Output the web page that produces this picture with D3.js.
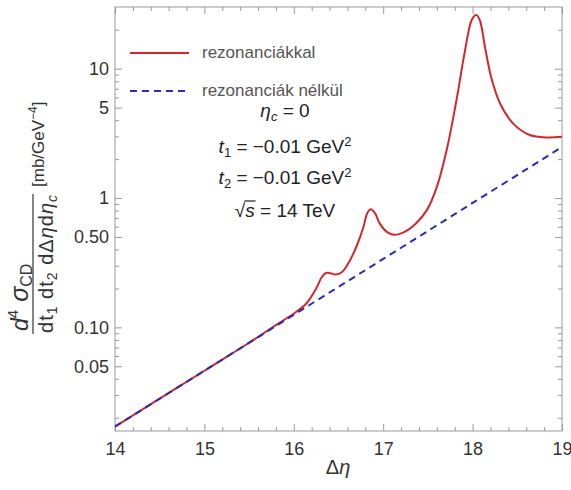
<!DOCTYPE html>
<html>
<head>
<meta charset="utf-8">
<script src="https://cdn.jsdelivr.net/npm/d3@7"></script>
<style>
  body { margin: 0; background: #fff; }
  svg { font-family: "Liberation Sans", Arial, sans-serif; }
  .tick line { stroke: #9a9a9a; }
  .tick text { fill: #333; font-size: 18px; }
  .frame { fill: none; stroke: #9a9a9a; stroke-width: 1; }
  .line-res { fill: none; stroke: #d2282d; stroke-width: 2px; }
  .line-nores { fill: none; stroke: #2b2bb8; stroke-width: 2px; stroke-dasharray: 7 5; }
</style>
</head>
<body>
<div id="chart"></div>
<script>
// tick values
const xTicks = [14, 15, 16, 17, 18, 19];
const yTicks = [0.05, 0.1, 0.5, 1, 5, 10];
const yTickLabels = ["0.05", "0.10", "0.50", "1", "5", "10"];

// with resonances
const etaRes = [14, 15, 15.5, 15.8, 16.0, 16.14, 16.26, 16.31, 16.36, 16.41, 16.47, 16.54, 16.61,
  16.70, 16.78, 16.82, 16.86, 16.91, 16.96, 17.04, 17.12, 17.24, 17.36, 17.49, 17.60,
  17.71, 17.82, 17.91, 17.99, 18.04, 18.08, 18.14, 18.21, 18.31, 18.46, 18.64, 18.83, 19.0];
const sigmaRes = [0.0171, 0.0462, 0.076, 0.104, 0.128, 0.153, 0.206, 0.243, 0.263, 0.262, 0.256, 0.268, 0.313,
  0.42, 0.60, 0.76, 0.818, 0.76, 0.637, 0.548, 0.52, 0.548, 0.63, 0.81, 1.22,
  2.35, 5.73, 13.2, 23.8, 26.0, 23.8, 14.5, 8.47, 5.33, 3.73, 3.07, 2.94, 2.98];

// without resonances
const etaNoRes = [14, 15, 16, 17, 18, 19];
const sigmaNoRes = [0.0171, 0.0462, 0.125, 0.338, 0.916, 2.48];

const legendLabels = ["rezonanciákkal", "rezonanciák nélkül"];

const W = 571, H = 490;
const margin = {top: 7, right: 9, bottom: 59, left: 115};
const width = W - margin.left - margin.right;
const height = H - margin.top - margin.bottom;

const x = d3.scaleLinear().domain([14, 19]).range([0, width]);
const y = d3.scaleLog().domain([0.0158, 30]).range([height, 0]);

const svg = d3.select("#chart").append("svg")
  .attr("width", W)
  .attr("height", H);

const g = svg.append("g")
  .attr("transform", "translate(" + margin.left + "," + margin.top + ")");

const xMinor = x.ticks(25).filter(v => !xTicks.includes(v));
const yMinor = y.ticks().filter(v => v > y.domain()[0] && v < y.domain()[1] &&
  !yTicks.some(t => Math.abs(t - v) / t < 1e-6));

function addAxis(axis, transform) {
  const a = g.append("g").attr("transform", transform || null).call(axis);
  a.select(".domain").remove();
  return a;
}

// major ticks with labels (bottom, left), mirrored without labels (top, right)
addAxis(d3.axisBottom(x).tickValues(xTicks).tickSizeInner(-7).tickSizeOuter(0).tickPadding(11)
  .tickFormat(d3.format("d")), "translate(0," + height + ")");
addAxis(d3.axisBottom(x).tickValues(xMinor).tickSizeInner(-4).tickSizeOuter(0).tickFormat(""),
  "translate(0," + height + ")");
addAxis(d3.axisTop(x).tickValues(xTicks).tickSizeInner(-7).tickSizeOuter(0).tickFormat(""));
addAxis(d3.axisTop(x).tickValues(xMinor).tickSizeInner(-4).tickSizeOuter(0).tickFormat(""));

addAxis(d3.axisLeft(y).tickValues(yTicks).tickSizeInner(-7).tickSizeOuter(0).tickPadding(6)
  .tickFormat((d, i) => yTickLabels[i]));
addAxis(d3.axisLeft(y).tickValues(yMinor).tickSizeInner(-4).tickSizeOuter(0).tickFormat(""));
addAxis(d3.axisRight(y).tickValues(yTicks).tickSizeInner(-7).tickSizeOuter(0).tickFormat(""),
  "translate(" + width + ",0)");
addAxis(d3.axisRight(y).tickValues(yMinor).tickSizeInner(-4).tickSizeOuter(0).tickFormat(""),
  "translate(" + width + ",0)");

g.append("rect").attr("class", "frame")
  .attr("x", 0).attr("y", 0).attr("width", width).attr("height", height);

// curves
svg.append("defs").append("clipPath").attr("id", "clip")
  .append("rect").attr("width", width).attr("height", height);

const line = d3.line()
  .x(d => x(d[0]))
  .y(d => y(d[1]))
  .curve(d3.curveCatmullRom.alpha(0.5));

const plot = g.append("g").attr("clip-path", "url(#clip)");

plot.append("path")
  .datum(etaRes.map((e, i) => [e, sigmaRes[i]]))
  .attr("class", "line-res")
  .attr("d", line);

plot.append("path")
  .datum(etaNoRes.map((e, i) => [e, sigmaNoRes[i]]))
  .attr("class", "line-nores")
  .attr("d", line);

// legend
const legend = g.append("g").attr("transform", "translate(15,46)");
["line-res", "line-nores"].forEach((cls, i) => {
  const row = legend.append("g").attr("transform", "translate(0," + (i * 38) + ")");
  row.append("line").attr("class", cls).attr("x1", 0).attr("x2", 59).attr("y1", 0).attr("y2", 0);
  row.append("text").attr("x", 72).attr("y", 5)
    .attr("fill", "#555").style("font-size", "17px")
    .text(legendLabels[i]);
});

// parameters block
const params = g.append("g").attr("transform", "translate(170,0)")
  .attr("text-anchor", "middle").attr("fill", "#222").style("font-size", "19px");

let t = params.append("text").attr("y", 110);
t.append("tspan").attr("font-style", "italic").text("η");
t.append("tspan").attr("font-style", "italic").attr("font-size", "13px").attr("dy", 4).text("c");
t.append("tspan").attr("dy", -4).text(" = 0");

t = params.append("text").attr("y", 146);
t.append("tspan").attr("font-style", "italic").text("t");
t.append("tspan").attr("font-size", "13px").attr("dy", 4).text("1");
t.append("tspan").attr("dy", -4).text(" = −0.01 GeV");
t.append("tspan").attr("font-size", "13px").attr("dy", -7).text("2");

t = params.append("text").attr("y", 177);
t.append("tspan").attr("font-style", "italic").text("t");
t.append("tspan").attr("font-size", "13px").attr("dy", 4).text("2");
t.append("tspan").attr("dy", -4).text(" = −0.01 GeV");
t.append("tspan").attr("font-size", "13px").attr("dy", -7).text("2");

t = params.append("text").attr("y", 210);
t.append("tspan").text("√");
t.append("tspan").attr("font-style", "italic").text("s");
t.append("tspan").text(" = 14 TeV");
// overline of the root
const rootText = t.node();
params.append("line")
  .attr("x1", rootText.getEndPositionOfChar(0).x - 1)
  .attr("x2", rootText.getEndPositionOfChar(1).x + 1)
  .attr("y1", 210 - 16).attr("y2", 210 - 16)
  .attr("stroke", "#222").attr("stroke-width", 1.2);

// axis titles
svg.append("text")
  .attr("x", 338).attr("y", 474)
  .attr("text-anchor", "middle").attr("fill", "#333").style("font-size", "20px")
  .call(s => {
    s.append("tspan").text("Δ");
    s.append("tspan").attr("font-style", "italic").text("η");
  });

const yl = svg.append("g").attr("transform", "rotate(-90)").attr("fill", "#333");
let num = yl.append("text").attr("x", -331).attr("y", 28).style("font-size", "23px");
num.append("tspan").attr("font-style", "italic").text("d");
num.append("tspan").attr("font-size", "15px").attr("dy", -10).text("4");
num.append("tspan").attr("dy", 10).attr("dx", 8).attr("font-style", "italic")
  .style("font-size", "25px").text("σ");
num.append("tspan").attr("font-size", "16px").attr("dy", 4).text("CD");

yl.append("line").attr("x1", -334).attr("x2", -194).attr("y1", 33).attr("y2", 33)
  .attr("stroke", "#333").attr("stroke-width", 1.2);

let den = yl.append("text").attr("x", -333).attr("y", 53)
  .style("font-size", "20px").attr("textLength", 138).attr("lengthAdjust", "spacing");
den.append("tspan").text("dt");
den.append("tspan").attr("font-size", "14px").attr("dy", 4).text("1");
den.append("tspan").attr("dy", -4).text(" dt");
den.append("tspan").attr("font-size", "14px").attr("dy", 4).text("2");
den.append("tspan").attr("dy", -4).text(" dΔ");
den.append("tspan").attr("font-style", "italic").text("η");
den.append("tspan").text("d");
den.append("tspan").attr("font-style", "italic").text("η");
den.append("tspan").attr("font-style", "italic").attr("font-size", "14px").attr("dy", 4).text("c");

let unit = yl.append("text").attr("x", -187).attr("y", 44).style("font-size", "17px");
unit.append("tspan").text("[mb/GeV");
unit.append("tspan").attr("font-size", "12px").attr("dy", -7).text("−4");
unit.append("tspan").attr("dy", 7).text("]");
</script>
</body>
</html>
